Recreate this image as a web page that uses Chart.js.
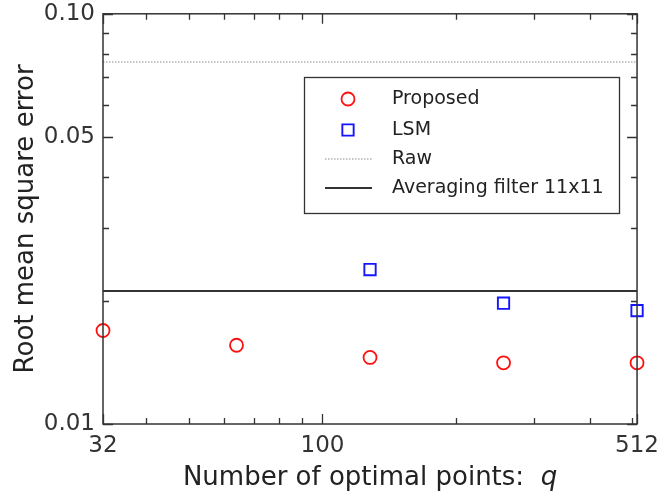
<!DOCTYPE html>
<html>
<head>
<meta charset="utf-8">
<script src="https://cdn.jsdelivr.net/npm/chart.js@4.4.1/dist/chart.umd.min.js"></script>
<style>
  html, body { margin: 0; padding: 0; background: #fff; }
  #wrap { width: 659px; height: 500px; }
</style>
</head>
<body>
<div id="wrap"><canvas id="rmseChart"></canvas></div>
<script>
// values
const qValues = [32, 64, 128, 256, 512];
const proposedRmse = [0.0169, 0.01556, 0.01453, 0.0141, 0.0141];
const lsmQ = [128, 256, 512];
const lsmRmse = [0.0238, 0.0197, 0.0189];
const rawRmse = 0.0763;
const avgRmse = 0.0211;

const xTicks = [32, 40, 50, 60, 70, 80, 90, 100, 200, 300, 400, 500, 512];
const xLabeled = [32, 100, 512];
const yTicks = [0.01, 0.02, 0.03, 0.04, 0.05, 0.06, 0.07, 0.08, 0.09, 0.1];
const yLabeled = { 0.01: '0.01', 0.05: '0.05', 0.1: '0.10' };

const FONT = '"DejaVu Sans", Verdana, sans-serif';
const AXIS_COLOR = '#333';

// box, inward ticks, axis titles and legend
const framePlugin = {
  id: 'frame',
  afterDatasetsDraw(chart) {
    const { ctx, chartArea: a, scales: { x, y } } = chart;
    ctx.save();
    ctx.strokeStyle = AXIS_COLOR;
    ctx.lineWidth = 1.5;
    ctx.strokeRect(a.left, a.top, a.right - a.left, a.bottom - a.top);
    ctx.lineWidth = 1.3;
    ctx.beginPath();
    xTicks.forEach(v => {
      const px = Math.round(x.getPixelForValue(v)) + 0.5;
      const len = xLabeled.includes(v) ? 10 : 6;
      ctx.moveTo(px, a.bottom); ctx.lineTo(px, a.bottom - len);
      ctx.moveTo(px, a.top); ctx.lineTo(px, a.top + len);
    });
    yTicks.forEach(v => {
      const py = Math.round(y.getPixelForValue(v)) + 0.5;
      const len = yLabeled[v] ? 10 : 6;
      ctx.moveTo(a.left, py); ctx.lineTo(a.left + len, py);
      ctx.moveTo(a.right, py); ctx.lineTo(a.right - len, py);
    });
    ctx.stroke();

    // axis titles
    ctx.fillStyle = '#222';
    ctx.textBaseline = 'middle';
    const t1 = 'Number of optimal points:  ';
    const t2 = 'q';
    ctx.font = '26px ' + FONT;
    const w1 = ctx.measureText(t1).width;
    ctx.font = 'italic 26px ' + FONT;
    const w2 = ctx.measureText(t2).width;
    const cx = (a.left + a.right) / 2;
    const sx = cx - (w1 + w2) / 2;
    ctx.font = '26px ' + FONT;
    ctx.textAlign = 'left';
    ctx.fillText(t1, sx, 478);
    ctx.font = 'italic 26px ' + FONT;
    ctx.fillText(t2, sx + w1, 478);

    ctx.save();
    ctx.translate(26, (a.top + a.bottom) / 2);
    ctx.rotate(-Math.PI / 2);
    ctx.font = '26px ' + FONT;
    ctx.textAlign = 'center';
    ctx.fillText('Root mean square error', 0, 0);
    ctx.restore();

    // legend
    const lx = 304, ly = 77, lw = 315, lh = 136;
    ctx.fillStyle = '#fff';
    ctx.fillRect(lx, ly, lw, lh);
    ctx.strokeStyle = '#333';
    ctx.lineWidth = 1.3;
    ctx.strokeRect(lx + 0.5, ly + 0.5, lw, lh);
    const rows = [99, 130, 159, 188];
    chart.data.datasets.forEach((ds, i) => {
      const ry = rows[i];
      ctx.save();
      if (ds.showLine) {
        ctx.strokeStyle = ds.borderColor;
        ctx.lineWidth = ds.borderWidth;
        ctx.setLineDash(ds.borderDash || []);
        ctx.beginPath();
        ctx.moveTo(325, ry); ctx.lineTo(372, ry);
        ctx.stroke();
      } else {
        ctx.strokeStyle = ds.pointBorderColor;
        ctx.lineWidth = ds.pointBorderWidth;
        ctx.beginPath();
        if (ds.pointStyle === 'circle') {
          ctx.arc(348, ry, ds.pointRadius, 0, Math.PI * 2);
        } else {
          const s = Math.SQRT1_2 * ds.pointRadius;
          ctx.rect(348 - s, ry - s, 2 * s, 2 * s);
        }
        ctx.stroke();
      }
      ctx.restore();
      ctx.fillStyle = '#222';
      ctx.font = '19px ' + FONT;
      ctx.textAlign = 'left';
      ctx.fillText(ds.label, 392, ry);
    });
    ctx.restore();
  }
};

new Chart(document.getElementById('rmseChart'), {
  type: 'scatter',
  data: {
    datasets: [
      {
        label: 'Proposed',
        data: qValues.map((q, i) => ({ x: q, y: proposedRmse[i] })),
        showLine: false,
        pointStyle: 'circle',
        pointRadius: 6.5,
        pointBorderWidth: 1.8,
        pointBorderColor: '#ff1010',
        pointBackgroundColor: 'rgba(0,0,0,0)',
        borderColor: '#ff1010',
        clip: false
      },
      {
        label: 'LSM',
        data: lsmQ.map((q, i) => ({ x: q, y: lsmRmse[i] })),
        showLine: false,
        pointStyle: 'rect',
        pointRadius: 8,
        pointBorderWidth: 1.9,
        pointBorderColor: '#1515ff',
        pointBackgroundColor: 'rgba(0,0,0,0)',
        borderColor: '#1515ff',
        clip: false
      },
      {
        label: 'Raw',
        data: [{ x: qValues[0], y: rawRmse }, { x: qValues[qValues.length - 1], y: rawRmse }],
        showLine: true,
        pointRadius: 0,
        borderColor: '#8a8a8a',
        borderWidth: 1,
        borderDash: [1.5, 1.5]
      },
      {
        label: 'Averaging filter 11x11',
        data: [{ x: qValues[0], y: avgRmse }, { x: qValues[qValues.length - 1], y: avgRmse }],
        showLine: true,
        pointRadius: 0,
        borderColor: '#333',
        borderWidth: 2
      }
    ]
  },
  plugins: [framePlugin],
  options: {
    responsive: true,
    maintainAspectRatio: false,
    animation: false,
    events: [],
    layout: { padding: { left: 0, right: 16, top: 0, bottom: 0 } },
    plugins: { legend: { display: false }, tooltip: { enabled: false } },
    scales: {
      x: {
        type: 'logarithmic',
        min: 32,
        max: 512,
        afterBuildTicks: s => { s.ticks = xTicks.map(v => ({ value: v })); },
        afterFit: s => { s.height = 76; },
        grid: { display: false },
        border: { display: false },
        ticks: {
          autoSkip: false,
          maxRotation: 0,
          padding: 0,
          color: '#333',
          font: { family: FONT, size: 23 },
          callback: v => (xLabeled.includes(v) ? String(v) : '')
        }
      },
      y: {
        type: 'logarithmic',
        min: 0.01,
        max: 0.1,
        afterBuildTicks: s => { s.ticks = yTicks.map(v => ({ value: v })); },
        afterFit: s => { s.width = 103; },
        grid: { display: false },
        border: { display: false },
        ticks: {
          autoSkip: false,
          padding: 0,
          color: '#333',
          font: { family: FONT, size: 23 },
          callback: v => yLabeled[v] || ''
        }
      }
    }
  }
});
</script>
</body>
</html>
